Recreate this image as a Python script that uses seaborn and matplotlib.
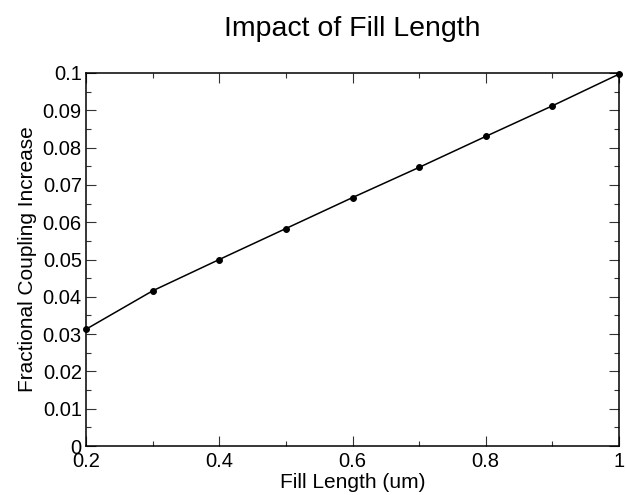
import matplotlib
matplotlib.use("Agg")
import matplotlib.pyplot as plt
from matplotlib.ticker import MultipleLocator
import seaborn as sns
import pandas as pd

fill_length = [0.2, 0.3, 0.4, 0.5, 0.6, 0.7, 0.8, 0.9, 1.0]
coupling_increase = [0.0313, 0.0416, 0.0500, 0.0583, 0.0666, 0.0747, 0.0830, 0.0912, 0.0997]

x_ticks = [0.2, 0.4, 0.6, 0.8, 1.0]
x_tick_labels = ["0.2", "0.4", "0.6", "0.8", "1"]
y_ticks = [0.0, 0.01, 0.02, 0.03, 0.04, 0.05, 0.06, 0.07, 0.08, 0.09, 0.1]
y_tick_labels = ["0", "0.01", "0.02", "0.03", "0.04", "0.05", "0.06", "0.07", "0.08", "0.09", "0.1"]

sns.set_theme(style="white")
plt.rcParams["font.family"] = ["Liberation Sans", "DejaVu Sans"]

df = pd.DataFrame({"Fill Length (um)": fill_length,
                   "Fractional Coupling Increase": coupling_increase})

fig = plt.figure(figsize=(6.26, 4.95), dpi=100)
ax = fig.add_axes([86 / 626, 1 - 446 / 495, (619 - 86) / 626, (446 - 73) / 495])

sns.lineplot(data=df, x="Fill Length (um)", y="Fractional Coupling Increase",
             ax=ax, color="black", linewidth=1.1, marker="o", markersize=4.2,
             markeredgecolor="black", markerfacecolor="black", clip_on=False)

ax.set_xlim(0.2, 1.0)
ax.set_ylim(0.0, 0.1)
ax.set_xticks(x_ticks)
ax.set_xticklabels(x_tick_labels)
ax.set_yticks(y_ticks)
ax.set_yticklabels(y_tick_labels)
ax.xaxis.set_minor_locator(MultipleLocator(0.1))
ax.yaxis.set_minor_locator(MultipleLocator(0.005))

for spine in ax.spines.values():
    spine.set_visible(True)
    spine.set_color("black")
    spine.set_linewidth(1.1)

ax.tick_params(which="both", direction="in", top=True, right=True,
               bottom=True, left=True, color="#333333", width=0.8)
ax.tick_params(which="major", length=7, labelsize=14.5, pad=4.5, labelcolor="black")
ax.tick_params(which="minor", length=3.5)
ax.tick_params(axis="y", which="major", pad=3)

ax.set_xlabel("Fill Length (um)", fontsize=15, labelpad=1.5, color="black")
ax.set_ylabel("Fractional Coupling Increase", fontsize=15, labelpad=4, color="black")
ax.set_title("Impact of Fill Length", fontsize=20.5, pad=27, color="black")

fig.savefig("out.png", dpi=100)
